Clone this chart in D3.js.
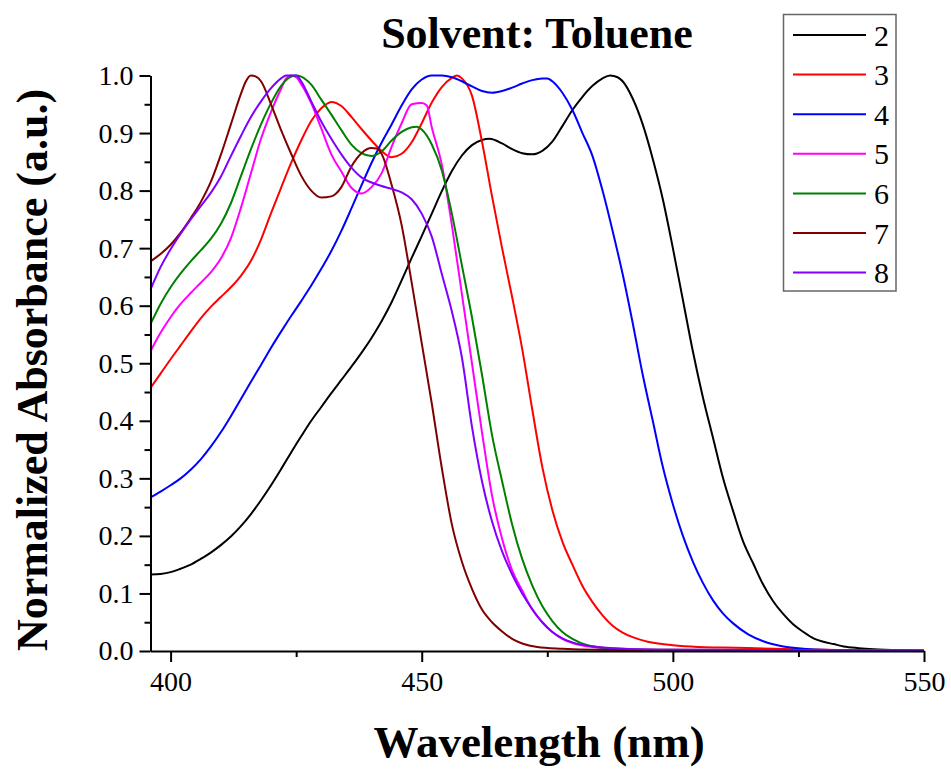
<!DOCTYPE html>
<html><head><meta charset="utf-8">
<script src="https://cdn.jsdelivr.net/npm/d3@7/dist/d3.min.js"></script>
<style>body{margin:0;background:#fff}svg{display:block}text{font-family:"Liberation Serif","Times New Roman",serif}</style>
</head><body><svg id="c" width="951" height="769"></svg>
<script>
const seriesNames = ["2","3","4","5","6","7","8"];
const seriesColors = ["#000000","#FF0000","#0000FF","#FF00FF","#008000","#800000","#8000FF"];
const xTicks = [400,450,500,550];
const yTicks = [0,0.1,0.2,0.3,0.4,0.5,0.6,0.7,0.8,0.9,1.0];

const s2 = [[396,0.133],[398,0.134],[400,0.137],[402,0.143],[404,0.150],[406,0.160],[408,0.171],[410,0.184],[412,0.199],[414,0.217],[416,0.238],[418,0.262],[420,0.288],[422,0.316],[424,0.345],[426,0.373],[428,0.400],[430,0.424],[432,0.448],[434,0.471],[436,0.494],[438,0.518],[440,0.544],[442,0.573],[444,0.606],[446,0.644],[448,0.683],[450,0.721],[452,0.760],[454,0.799],[456,0.834],[458,0.861],[460,0.879],[462,0.888],[463.5,0.890],[466,0.882],[468,0.872],[470,0.865],[472,0.863],[474,0.869],[476,0.885],[478,0.912],[480,0.940],[482,0.963],[484,0.982],[486,0.995],[487.5,1.0],[489,0.997],[490,0.99],[492,0.96],[494,0.915],[496,0.855],[498,0.785],[500,0.70],[502,0.61],[504,0.52],[506,0.44],[508,0.37],[510,0.30],[512,0.243],[514,0.19],[516,0.152],[518,0.115],[520,0.086],[522,0.064],[524,0.046],[526,0.033],[528,0.022],[530,0.016],[532,0.012],[534,0.008],[537,0.005],[540,0.003],[545,0.0012],[550,0.0005]];
const s3 = [[396,0.457],[398,0.482],[400,0.507],[402,0.531],[404,0.555],[406,0.578],[408,0.598],[410,0.615],[412,0.632],[414,0.652],[416,0.678],[418,0.715],[420,0.761],[422,0.805],[424,0.848],[426,0.887],[428,0.921],[430,0.943],[432,0.954],[434,0.947],[436,0.928],[438,0.907],[440,0.887],[442,0.869],[444,0.858],[446,0.864],[448,0.884],[450,0.917],[452,0.953],[454,0.98],[456,0.996],[457,1.0],[458,0.995],[460,0.965],[462,0.885],[464,0.79],[466,0.70],[468,0.615],[470,0.525],[472,0.42],[474,0.32],[476,0.245],[478,0.19],[480,0.15],[482,0.113],[484,0.085],[486,0.062],[488,0.044],[490,0.032],[492,0.024],[495,0.016],[500,0.01],[505,0.007],[510,0.006],[520,0.004],[530,0.002],[540,0.001],[550,0.0]];
const s4 = [[396,0.267],[398,0.277],[400,0.288],[402,0.300],[404,0.315],[406,0.333],[408,0.355],[410,0.380],[412,0.408],[414,0.438],[416,0.468],[418,0.497],[420,0.527],[422,0.555],[424,0.582],[426,0.608],[428,0.635],[430,0.664],[432,0.695],[434,0.730],[436,0.769],[438,0.809],[440,0.848],[442,0.883],[444,0.915],[446,0.948],[448,0.976],[450,0.993],[452,1.0],[454,1.0],[456,0.997],[458,0.99],[460,0.981],[462,0.973],[464,0.970],[466,0.973],[468,0.979],[470,0.986],[472,0.992],[474,0.995],[475,0.995],[476,0.99],[478,0.97],[480,0.94],[482,0.90],[484,0.86],[486,0.80],[488,0.73],[490,0.655],[492,0.57],[494,0.48],[496,0.40],[498,0.32],[500,0.255],[502,0.20],[504,0.155],[506,0.118],[508,0.088],[510,0.065],[512,0.048],[515,0.029],[518,0.017],[522,0.008],[526,0.004],[530,0.002],[540,0.0008],[550,0.0]];
const s5 = [[396,0.521],[398,0.553],[400,0.580],[402,0.603],[404,0.622],[406,0.640],[408,0.658],[410,0.682],[412,0.717],[414,0.77],[416,0.83],[418,0.89],[420,0.937],[422,0.977],[423,0.995],[424,1.0],[425,0.997],[426,0.985],[428,0.952],[430,0.908],[432,0.863],[434,0.833],[436,0.805],[438,0.795],[440,0.806],[442,0.83],[444,0.876],[446,0.917],[448,0.95],[450,0.952],[451,0.948],[452,0.91],[454,0.845],[456,0.74],[458,0.62],[460,0.50],[462,0.38],[464,0.27],[466,0.195],[468,0.14],[470,0.105],[472,0.072],[474,0.05],[476,0.033],[478,0.021],[480,0.014],[484,0.007],[490,0.004],[500,0.002],[550,0.001]];
const s6 = [[396,0.568],[398,0.603],[400,0.632],[402,0.656],[404,0.677],[406,0.696],[408,0.716],[410,0.742],[412,0.778],[414,0.825],[416,0.872],[418,0.915],[420,0.952],[422,0.982],[424,0.998],[425,1.0],[426,0.998],[428,0.984],[430,0.958],[432,0.932],[434,0.905],[436,0.88],[438,0.865],[440,0.86],[442,0.868],[444,0.887],[446,0.902],[448,0.91],[449,0.911],[450,0.906],[452,0.88],[454,0.835],[456,0.76],[458,0.67],[460,0.58],[462,0.48],[464,0.375],[466,0.295],[468,0.22],[470,0.16],[472,0.114],[474,0.078],[476,0.052],[478,0.033],[480,0.021],[483,0.01],[488,0.004],[495,0.002],[550,0.001]];
const s7 = [[396,0.677],[398,0.69],[400,0.706],[402,0.727],[404,0.752],[406,0.78],[408,0.815],[410,0.862],[412,0.915],[414,0.968],[415,0.99],[416,1.0],[417,0.998],[418,0.99],[420,0.95],[422,0.905],[424,0.864],[426,0.826],[428,0.80],[430,0.788],[432,0.79],[434,0.806],[436,0.842],[438,0.865],[440,0.874],[441,0.873],[442,0.864],[444,0.81],[446,0.74],[448,0.64],[450,0.535],[452,0.43],[454,0.318],[456,0.22],[458,0.155],[460,0.108],[462,0.072],[464,0.05],[466,0.034],[468,0.021],[470,0.013],[473,0.007],[478,0.004],[485,0.002],[500,0.001],[550,0.0]];
const s8 = [[396,0.628],[398,0.667],[400,0.698],[402,0.725],[404,0.750],[406,0.773],[408,0.796],[410,0.824],[412,0.86],[414,0.895],[416,0.928],[418,0.955],[420,0.978],[422,0.995],[423,1.0],[425,1.0],[426,0.99],[428,0.955],[430,0.92],[432,0.89],[434,0.863],[436,0.84],[438,0.823],[440,0.814],[442,0.808],[444,0.803],[446,0.797],[448,0.785],[450,0.76],[452,0.72],[454,0.655],[456,0.59],[458,0.51],[460,0.39],[462,0.295],[464,0.225],[466,0.173],[468,0.133],[470,0.1],[472,0.073],[474,0.05],[476,0.033],[478,0.022],[480,0.015],[485,0.007],[490,0.004],[500,0.002],[550,0.001]];
const allSeries = [s2,s3,s4,s5,s6,s7,s8];

const svg = d3.select("#c");
const x = d3.scaleLinear().domain([396,550]).range([150.5,924]);
const y = d3.scaleLinear().domain([0,1]).range([651,75.5]);
const FONT = '"Liberation Serif","Times New Roman",serif';

// curves
const line = d3.line().x(d=>x(d[0])).y(d=>y(d[1])).curve(d3.curveMonotoneX);
allSeries.forEach((s,i)=>{
  svg.append("path").datum(s).attr("d",line).attr("fill","none")
    .attr("stroke",seriesColors[i]).attr("stroke-width",2).attr("stroke-linejoin","round");
});

// axes
function styleAxis(g){
  g.select(".domain").attr("stroke","#000").attr("stroke-width",2);
  g.selectAll(".tick line").attr("stroke","#000").attr("stroke-width",2);
  g.selectAll("text").attr("font-family",FONT).attr("fill","#000");
}
const yMinor = d3.range(0.05,1.0,0.1);
svg.append("g").attr("transform","translate(150.5,0)")
  .call(d3.axisLeft(y).tickValues(yMinor).tickSize(6).tickFormat(""))
  .call(g=>{g.select(".domain").remove();g.selectAll(".tick line").attr("stroke","#000").attr("stroke-width",2);});
svg.append("g").attr("transform","translate(150.5,0)")
  .call(d3.axisLeft(y).tickValues(yTicks).tickSize(11).tickSizeOuter(0).tickPadding(6).tickFormat(d3.format(".1f")))
  .call(styleAxis).call(g=>g.selectAll("text").attr("font-size",28));

const xMinor = [425,475,525];
svg.append("g").attr("transform","translate(0,651)")
  .call(d3.axisBottom(x).tickValues(xMinor).tickSize(6).tickFormat(""))
  .call(g=>{g.select(".domain").remove();g.selectAll(".tick line").attr("stroke","#000").attr("stroke-width",2);});
svg.append("g").attr("transform","translate(0,651)")
  .call(d3.axisBottom(x).tickValues(xTicks).tickSize(11).tickSizeOuter(0).tickPadding(9).tickFormat(d3.format("d")))
  .call(styleAxis).call(g=>g.selectAll("text").attr("font-size",28));

// titles
svg.append("text").attr("x",537).attr("y",48).attr("text-anchor","middle")
  .attr("font-size",44).attr("font-weight","bold").text("Solvent: Toluene");
svg.append("text").attr("x",539).attr("y",757).attr("text-anchor","middle")
  .attr("font-size",45).attr("font-weight","bold").text("Wavelength (nm)");
svg.append("text").attr("transform","translate(47,370) rotate(-90)").attr("text-anchor","middle")
  .attr("font-size",44).attr("font-weight","bold").text("Normalized Absorbance (a.u.)");

// legend
const lg = svg.append("g");
lg.append("rect").attr("x",783.5).attr("y",14.5).attr("width",112.5).attr("height",276.5)
  .attr("fill","#fff").attr("stroke","#666").attr("stroke-width",1.5);
seriesNames.forEach((n,i)=>{
  const yy = 35 + i*39.6;
  lg.append("line").attr("x1",793).attr("x2",866).attr("y1",yy).attr("y2",yy)
    .attr("stroke",seriesColors[i]).attr("stroke-width",2);
  lg.append("text").attr("x",874).attr("y",yy).attr("dy","0.35em")
    .attr("font-size",30).text(n);
});
</script></body></html>
